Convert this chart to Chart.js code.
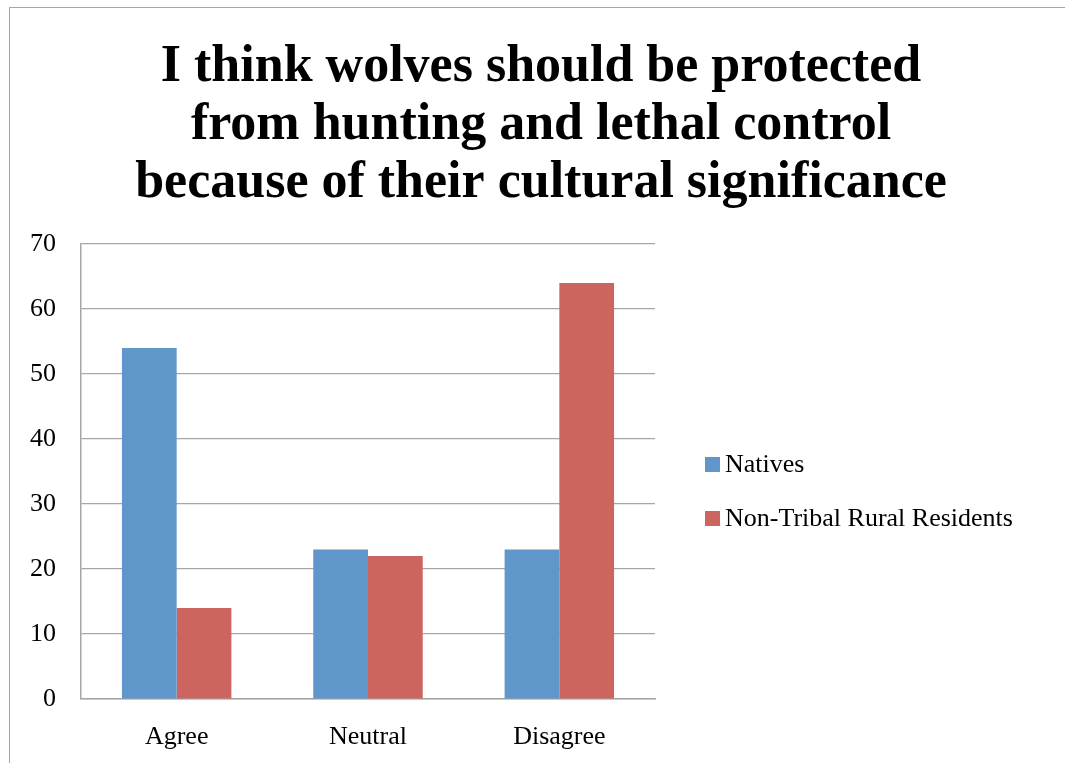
<!DOCTYPE html>
<html lang="en">
<head>
    <meta charset="UTF-8">
    <title>Wolves cultural significance</title>
    <style>
        html, body {
            margin: 0;
            padding: 0;
            background: #fff;
            overflow: hidden;
            width: 1065px;
            height: 763px;
        }
        .card {
            position: absolute;
            left: 9px;
            top: 7px;
            width: 1070px;
            height: 780px;
            border: 1px solid #a6a6a6;
            background: #fff;
        }
        #chart {
            display: block;
        }
    </style>
</head>
<body>
    <div class="card">
        <canvas id="chart" width="1062" height="755"></canvas>
    </div>

    <script src="https://cdn.jsdelivr.net/npm/chart.js"></script>
    <script>
        const titleLines = [
            'I think wolves should be protected',
            'from hunting and lethal control',
            'because of their cultural significance'
        ];
        const categories = ['Agree', 'Neutral', 'Disagree'];
        const nativesValues = [54, 23, 23];
        const ruralValues = [14, 22, 64];
        const yMin = 0;
        const yMax = 70;
        const yStep = 10;

        const serif = "'Liberation Serif', 'DejaVu Serif', serif";
        const gridGray = '#a6a6a6';
        const labelSize = 26;

        // legend drawn beside the plot, Excel style (box + label, left aligned)
        const sideLegend = {
            id: 'sideLegend',
            afterDraw(chart) {
                const c = chart.ctx;
                const area = chart.chartArea;
                const x = area.right + 50;
                const yFirst = area.top + 221;
                const gap = 54;
                c.save();
                c.font = labelSize + 'px ' + serif;
                c.textBaseline = 'middle';
                c.textAlign = 'left';
                chart.data.datasets.forEach((ds, i) => {
                    const y = yFirst + i * gap;
                    c.fillStyle = ds.backgroundColor;
                    c.fillRect(x, y - 8, 15, 15);
                    c.fillStyle = '#000';
                    c.fillText(ds.label, x + 20, y);
                });
                c.restore();
            }
        };

        const ctx = document.getElementById('chart').getContext('2d');
        const chart = new Chart(ctx, {
            type: 'bar',
            data: {
                labels: categories,
                datasets: [{
                    label: 'Natives',
                    data: nativesValues,
                    backgroundColor: '#6096ca',
                    borderWidth: 0
                }, {
                    label: 'Non-Tribal Rural Residents',
                    data: ruralValues,
                    backgroundColor: '#cc655f',
                    borderWidth: 0
                }]
            },
            options: {
                responsive: false,
                animation: false,
                devicePixelRatio: 1,
                categoryPercentage: 0.572,
                barPercentage: 1,
                layout: {
                    padding: { left: 10, right: 10, top: 0, bottom: 14 }
                },
                plugins: {
                    title: {
                        display: true,
                        text: titleLines,
                        color: '#000',
                        font: { family: serif, size: 52, weight: 'bold', lineHeight: 58 / 52 },
                        padding: { top: 31, bottom: 31 }
                    },
                    legend: { display: false },
                    tooltip: { enabled: false }
                },
                scales: {
                    x: {
                        grid: { display: false, drawTicks: false },
                        border: { color: gridGray, width: 1.5 },
                        ticks: {
                            color: '#000',
                            padding: 23,
                            font: { family: serif, size: labelSize }
                        },
                        afterFit(scale) { scale.height = 50; }
                    },
                    y: {
                        min: yMin,
                        max: yMax,
                        grid: { color: gridGray, lineWidth: 1.2, drawTicks: false },
                        border: { color: gridGray, width: 1.5 },
                        ticks: {
                            stepSize: yStep,
                            color: '#000',
                            padding: 25,
                            font: { family: serif, size: labelSize }
                        },
                        afterFit(scale) { scale.width = 61; }
                    },
                    // empty room on the right where the legend sits
                    legendRoom: {
                        type: 'linear',
                        position: 'right',
                        grid: { display: false },
                        border: { display: false },
                        ticks: { display: false },
                        afterFit(scale) { scale.width = 407; }
                    }
                }
            },
            plugins: [sideLegend]
        });
    </script>
</body>
</html>
